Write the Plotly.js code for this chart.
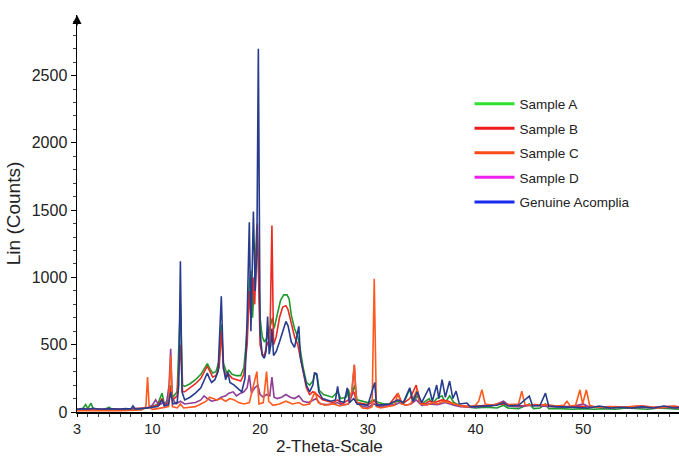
<!DOCTYPE html>
<html>
<head>
<meta charset="utf-8">
<script src="https://cdn.plot.ly/plotly-3.0.1.min.js"></script>
<style>html,body{margin:0;padding:0;background:#fff;}#chart{width:679px;height:456px;}</style>
</head>
<body>
<div id="chart"></div>
<script>
// Series names
const seriesNames = ["Sample A", "Sample B", "Sample C", "Sample D", "Genuine Acomplia"];

// Sample A (green)
const xA = [3.0,3.5,3.8,4.0,4.3,4.5,5.0,5.5,6.0,6.2,7.0,8.0,9.0,9.5,10.0,10.5,10.9,11.1,11.5,11.7,11.9,12.3,12.6,12.8,13.0,13.5,14.0,14.5,14.8,15.1,15.35,15.6,15.9,16.2,16.4,16.6,16.9,17.1,17.4,17.8,18.2,18.5,18.8,19.0,19.15,19.3,19.5,19.7,19.85,20.0,20.2,20.4,20.7,21.0,21.15,21.3,21.6,21.9,22.2,22.5,22.7,22.9,23.2,23.5,23.7,24.0,24.3,24.6,24.9,25.1,25.3,25.5,25.9,26.3,26.7,27.2,27.5,28.0,28.2,28.4,28.8,29.0,29.5,30.0,30.6,31.0,31.5,32.0,32.8,33.3,33.9,34.2,34.6,35.0,35.7,36.0,36.4,36.9,37.2,37.6,38.0,38.5,39.0,39.5,40.0,41.0,42.0,42.6,43.0,44.0,45.0,45.4,46.0,46.5,46.8,48.0,49.0,50.0,51.0,52.0,53.0,54.0,55.0,56.0,57.0,58.0,59.0];
const yA = [15,20,55,25,65,25,20,18,35,18,20,20,22,30,40,60,140,60,90,200,110,150,800,200,190,210,240,280,320,360,320,290,300,380,650,360,290,310,280,270,270,330,600,950,1050,700,1000,1380,1100,700,560,520,560,650,700,620,720,830,870,870,840,720,620,560,480,330,220,200,230,290,270,160,130,120,110,150,100,110,170,100,200,90,80,70,90,70,60,60,80,60,170,70,120,60,100,60,100,120,70,120,70,50,40,35,30,35,30,50,30,25,60,25,30,60,25,25,20,25,20,25,20,30,25,20,30,25,20];

// Sample B (red)
const xB = [3.0,4.0,5.0,6.0,7.0,8.0,9.0,9.5,10.0,10.5,10.9,11.1,11.5,11.7,11.9,12.3,12.6,12.8,13.0,13.5,14.0,14.5,14.8,15.1,15.35,15.6,15.9,16.2,16.4,16.6,16.9,17.1,17.4,17.8,18.2,18.5,18.8,19.0,19.15,19.35,19.5,19.75,19.9,20.0,20.2,20.4,20.7,20.9,21.1,21.25,21.5,21.8,22.1,22.4,22.6,22.9,23.2,23.5,23.7,24.0,24.3,24.6,24.9,25.15,25.4,25.8,26.3,26.8,27.2,27.6,28.2,28.7,29.0,29.5,30.0,30.6,31.0,31.5,32.0,32.8,33.2,33.9,34.5,34.8,35.3,35.7,36.2,36.9,37.5,38.0,38.5,39.5,40.5,41.5,42.6,43.5,44.5,45.5,46.5,47.5,48.5,49.5,50.5,51.5,52.5,53.5,54.5,55.5,56.5,57.5,58.5,59.0];
const yB = [20,22,20,22,20,22,25,30,40,50,100,55,70,180,90,120,500,150,150,180,210,250,290,340,300,260,270,330,600,320,260,280,250,240,230,280,500,900,700,1000,800,1400,900,500,430,420,520,480,1385,500,560,700,780,790,760,650,560,500,420,280,180,130,150,140,120,90,80,70,90,60,90,150,70,60,55,80,55,50,55,140,60,100,200,70,60,80,70,90,80,60,50,40,45,50,60,50,45,55,50,40,40,45,40,35,40,35,40,45,35,40,45,35];

// Sample C (orange-red)
const xC = [3.0,4.0,5.0,6.0,7.0,8.0,9.0,9.4,9.55,9.7,10.0,10.5,11.0,11.5,11.7,11.85,12.3,12.6,12.9,13.5,14.0,14.5,15.0,15.3,15.6,16.0,16.4,16.8,17.2,17.6,18.0,18.5,19.0,19.7,19.9,20.3,20.6,20.8,21.2,21.8,22.4,23.0,23.6,24.0,24.6,25.1,25.4,26.0,26.8,27.4,28.2,28.5,28.75,28.95,29.5,30.0,30.4,30.6,30.8,31.2,31.8,32.5,32.8,33.1,33.6,34.0,34.6,34.9,35.5,36.0,36.5,37.0,37.5,38.0,38.5,39.0,39.6,40.0,40.3,40.6,40.9,41.5,42.0,42.5,43.0,43.5,44.0,44.3,44.6,45.5,46.5,47.5,48.2,48.5,48.8,49.3,49.7,49.95,50.3,50.6,51.0,52.0,53.0,54.0,55.0,56.0,57.0,58.0,59.0];
const yC = [10,12,10,12,10,12,15,40,260,40,20,25,30,40,420,40,30,60,30,35,40,60,80,110,100,90,100,80,100,90,70,60,70,300,60,70,300,80,50,60,80,60,70,50,60,150,70,50,60,45,60,150,350,80,30,25,40,990,40,30,40,50,140,60,50,60,170,60,50,70,60,80,70,60,50,40,40,50,80,165,60,50,60,70,55,60,60,155,55,50,55,45,50,80,45,50,165,60,165,50,40,35,40,35,45,40,30,40,30];

// Sample D (purple)
const xD = [3.0,4.0,5.0,6.0,7.0,8.0,9.0,9.5,10.0,10.3,10.6,11.0,11.3,11.55,11.7,11.85,12.2,12.6,13.0,13.5,14.0,14.5,14.8,15.1,15.5,16.0,16.4,16.8,17.1,17.5,17.8,18.2,18.5,18.8,19.0,19.2,19.5,19.8,20.0,20.3,20.6,20.9,21.1,21.3,21.6,22.0,22.4,22.8,23.2,23.6,24.0,24.5,25.0,25.2,25.6,26.2,26.8,27.2,27.6,28.2,28.5,28.75,28.95,29.5,30.0,30.6,31.0,31.8,32.5,33.0,33.5,34.0,34.5,35.0,35.7,36.5,37.2,38.0,38.6,39.5,40.5,41.5,42.6,43.2,44.0,45.0,46.0,47.0,48.0,49.0,50.0,50.5,51.5,52.5,53.5,54.5,55.5,56.5,57.5,58.5,59.0];
const yD = [20,22,20,22,20,22,25,30,50,90,50,70,60,200,470,100,60,80,60,65,70,90,120,100,80,90,110,120,140,150,120,140,150,180,275,140,180,200,130,110,130,120,260,110,100,110,130,110,100,120,80,70,90,100,60,55,60,70,50,60,120,350,70,40,35,60,40,45,55,70,50,60,90,50,60,55,70,50,40,35,40,45,80,45,40,50,45,40,35,40,60,40,35,30,35,30,35,30,35,30,30];

// Genuine Acomplia (blue)
const xG = [3.0,3.5,4.0,4.5,5.0,5.5,6.0,6.5,7.0,7.5,8.0,8.2,8.4,9.0,9.5,10.0,10.5,10.9,11.1,11.5,11.7,11.9,12.3,12.45,12.6,12.75,13.0,13.5,14.0,14.5,14.8,15.1,15.3,15.5,15.8,16.1,16.4,16.6,16.8,17.0,17.2,17.6,18.0,18.3,18.6,18.8,19.0,19.15,19.38,19.55,19.7,19.84,20.0,20.2,20.4,20.55,20.7,20.85,21.0,21.1,21.25,21.5,21.8,22.1,22.4,22.6,22.9,23.2,23.6,23.75,24.0,24.3,24.6,24.9,25.05,25.25,25.45,25.8,26.2,26.6,27.0,27.2,27.4,27.8,28.1,28.3,28.7,29.0,29.5,30.0,30.65,30.8,31.5,32.0,32.8,33.3,33.9,34.2,34.6,35.0,35.7,36.0,36.4,36.6,36.9,37.2,37.6,37.9,38.2,38.5,39.2,39.5,40.0,41.0,42.0,42.6,43.0,44.0,45.0,45.3,46.0,46.5,46.8,47.5,48.5,49.5,50.5,51.5,52.5,53.5,54.5,55.5,56.5,57.5,58.5,59.0];
const yG = [20,25,20,28,22,20,25,22,20,25,22,45,22,25,30,35,40,90,45,55,150,60,70,200,1120,150,90,110,140,180,230,290,250,220,240,300,860,330,240,300,220,200,170,150,250,700,1410,600,1490,900,1200,2700,600,420,400,450,710,430,500,620,420,450,520,600,673,640,520,480,636,400,300,200,150,200,290,285,150,100,90,80,90,190,80,70,180,70,100,60,55,50,220,50,55,60,90,70,180,80,150,70,180,80,200,100,240,110,230,100,155,60,67,40,40,45,50,70,45,50,118,45,50,140,45,40,35,35,30,45,30,35,30,40,30,45,30,35];

const plotColors = {A:"#1f9a2c", B:"#ec2a22", C:"#ff5a1e", D:"#8e3e96", G:"#283c8e"};
const legendColors = ["#2fe02f", "#ee1c1c", "#ff4a1a", "#ee22ee", "#1a2aee"];

function line(x, y, color, name) {
  return {x: x, y: y, type: "scatter", mode: "lines", name: name, showlegend: false,
          line: {color: color, width: 1.6}, hoverinfo: "skip"};
}
const traces = [
  line(xA, yA, plotColors.A, seriesNames[0]),
  line(xB, yB, plotColors.B, seriesNames[1]),
  line(xD, yD, plotColors.D, seriesNames[3]),
  line(xC, yC, plotColors.C, seriesNames[2]),
  line(xG, yG, plotColors.G, seriesNames[4])
];
// legend entries
seriesNames.forEach(function(n, i) {
  traces.push({x: [null], y: [null], type: "scatter", mode: "lines", name: n,
               legendgroup: "g" + i, line: {color: legendColors[i], width: 3}});
});

const font = {family: "Liberation Sans, Arial, sans-serif", color: "#222"};
const layout = {
  width: 679, height: 456,
  margin: {l: 77, r: 0, t: 15, b: 44, pad: 0},
  paper_bgcolor: "#fff", plot_bgcolor: "#fff",
  showlegend: true,
  legend: {x: 0.652, y: 0.815, xanchor: "left", yanchor: "top", bgcolor: "rgba(0,0,0,0)",
           font: {family: font.family, size: 13.5, color: "#222"}, tracegroupgap: 4,
           traceorder: "grouped", itemwidth: 40},
  xaxis: {
    range: [3, 58.9], showgrid: false, zeroline: false,
    showline: true, linecolor: "#000", linewidth: 1.5,
    tickmode: "array", tickvals: [3, 10, 20, 30, 40, 50], ticktext: ["3", "10", "20", "30", "40", "50"],
    ticks: "outside", ticklen: 3, tickcolor: "#000",
    minor: {tick0: 0, dtick: 1, ticks: "outside", ticklen: 3, tickcolor: "#444"},
    tickfont: {family: font.family, size: 14.5, color: "#222"}
  },
  yaxis: {
    range: [0, 2950], showgrid: false, zeroline: false,
    showline: true, linecolor: "#000", linewidth: 1.5,
    tickvals: [0, 500, 1000, 1500, 2000, 2500],
    ticks: "outside", ticklen: 5, tickcolor: "#000",
    minor: {tick0: 0, dtick: 100, ticks: "outside", ticklen: 3, tickcolor: "#444"},
    tickfont: {family: font.family, size: 16, color: "#222"},
    title: {text: "Lin (Counts)", font: {family: font.family, size: 19, color: "#222"}, standoff: 6}
  },
  annotations: [
    {xref: "paper", yref: "paper", x: 0.42, y: -0.088, yanchor: "middle", showarrow: false,
     text: "2-Theta-Scale", font: {family: font.family, size: 17, color: "#222"}},
    {xref: "x", yref: "y", x: 3, y: 2950, ax: 0, ay: 12, showarrow: true, arrowhead: 2,
     arrowsize: 1.2, arrowwidth: 1.5, arrowcolor: "#000", text: ""}
  ]
};
Plotly.newPlot("chart", traces, layout, {displayModeBar: false, staticPlot: true});
</script>
</body>
</html>
